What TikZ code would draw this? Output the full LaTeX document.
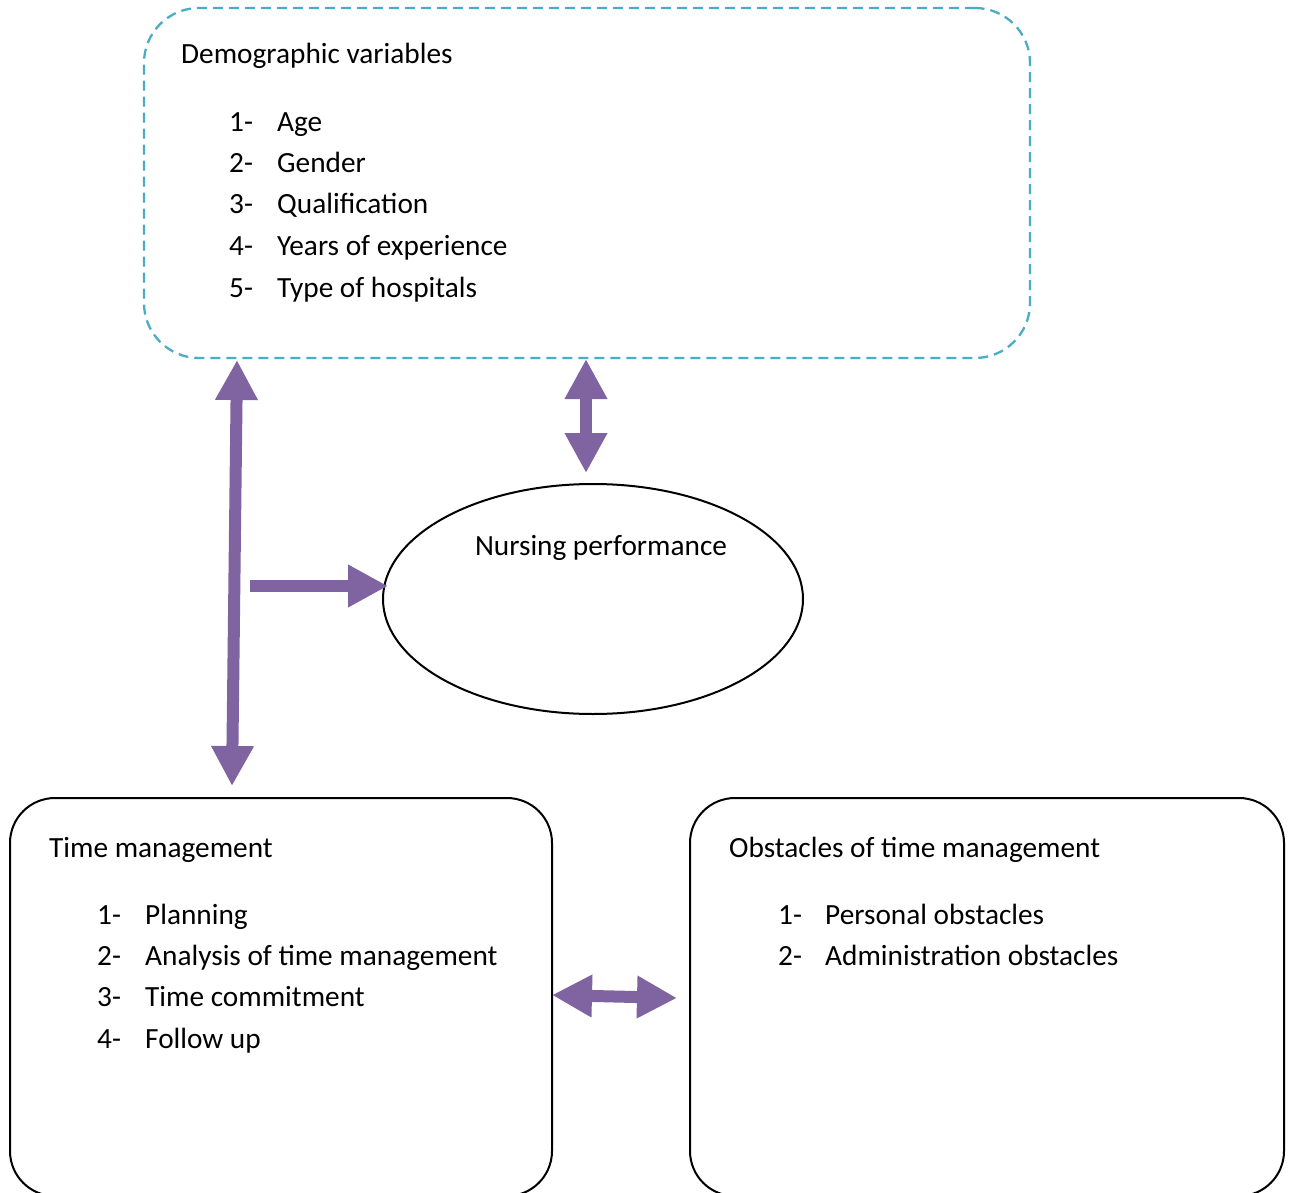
\documentclass[tikz,border=0pt]{standalone}
\usepackage{fontspec}
\setmainfont{Carlito}
\usetikzlibrary{arrows.meta,shapes.geometric}
\definecolor{arrowpurple}{HTML}{8064A2}
\definecolor{dashblue}{HTML}{4BACC6}
\tikzset{
  txt/.style={anchor=base west, inner sep=0pt, font=\fontsize{29.3}{34}\selectfont},
  txtc/.style={anchor=base, inner sep=0pt, font=\fontsize{29.3}{34}\selectfont},
  blockarrow/.style={draw=arrowpurple, line width=12pt,
    arrows={-{Triangle[length=40pt,width=40pt]}}},
  blockdarrow/.style={draw=arrowpurple, line width=12pt,
    arrows={{Triangle[length=40pt,width=40pt]}-{Triangle[length=40pt,width=40pt]}}},
  roundbox/.style={draw, line width=2pt, rectangle, rounded corners=45pt, inner sep=0pt},
}
\begin{document}
\begin{tikzpicture}[x=1pt,y=-1pt]
\useasboundingbox (0,0) rectangle (1290,1193);
% demographic box
\node[draw=dashblue, line width=2.3pt, dash pattern=on 10pt off 6pt, rectangle,
      rounded corners=55pt, inner sep=0pt, minimum width=886pt, minimum height=350pt]
      (demo) at (587,183) {};
\node[txt] (demot) at (181,64) {Demographic variables};
\node[txt] (d1n) at (229,132) {1-};\node[txt] (d1) at (277,132) {Age};
\node[txt] (d2n) at (229,173) {2-};\node[txt] (d2) at (277,173) {Gender};
\node[txt] (d3n) at (229,214) {3-};\node[txt] (d3) at (277,214) {Qualification};
\node[txt] (d4n) at (229,255) {4-};\node[txt] (d4) at (277,255) {Years of experience};
\node[txt] (d5n) at (229,297) {5-};\node[txt] (d5) at (277,297) {Type of hospitals};
% ellipse
\node[draw, line width=2pt, ellipse, minimum width=420pt, minimum height=230pt, inner sep=0pt]
      (nurse) at (593,599) {};
\node[txtc] (nurset) at (601,555) {Nursing performance};
% time management box
\node[roundbox, minimum width=542pt, minimum height=398pt] (time) at (281,997) {};
\node[txt] (timet) at (49,857) {Time management};
\node[txt] (t1n) at (97,924) {1-};\node[txt] (t1) at (145,924) {Planning};
\node[txt] (t2n) at (97,965) {2-};\node[txt] (t2) at (145,965) {Analysis of time management};
\node[txt] (t3n) at (97,1006) {3-};\node[txt] (t3) at (145,1006) {Time commitment};
\node[txt] (t4n) at (97,1048) {4-};\node[txt] (t4) at (145,1048) {Follow up};
% obstacles box
\node[roundbox, minimum width=594pt, minimum height=398pt] (obst) at (987,997) {};
\node[txt] (obstt) at (729,857) {Obstacles of time management};
\node[txt] (o1n) at (778,924) {1-};\node[txt] (o1) at (825,924) {Personal obstacles};
\node[txt] (o2n) at (778,965) {2-};\node[txt] (o2) at (825,965) {Administration obstacles};
% arrow end points
\coordinate (la1) at (237,360);
\coordinate (la2) at (232,786);
\coordinate (ra1) at (250,586);
\coordinate (ra2) at (388,586);
\coordinate (va1) at (586,359);
\coordinate (va2) at (586,473);
\coordinate (ha1) at (552,995);
\coordinate (ha2) at (677,998);
\draw[blockdarrow] (la1) -- (la2);
\draw[blockarrow] (ra1) -- (ra2);
\draw[blockdarrow] (va1) -- (va2);
\draw[blockdarrow] (ha1) -- (ha2);
\end{tikzpicture}
\end{document}
